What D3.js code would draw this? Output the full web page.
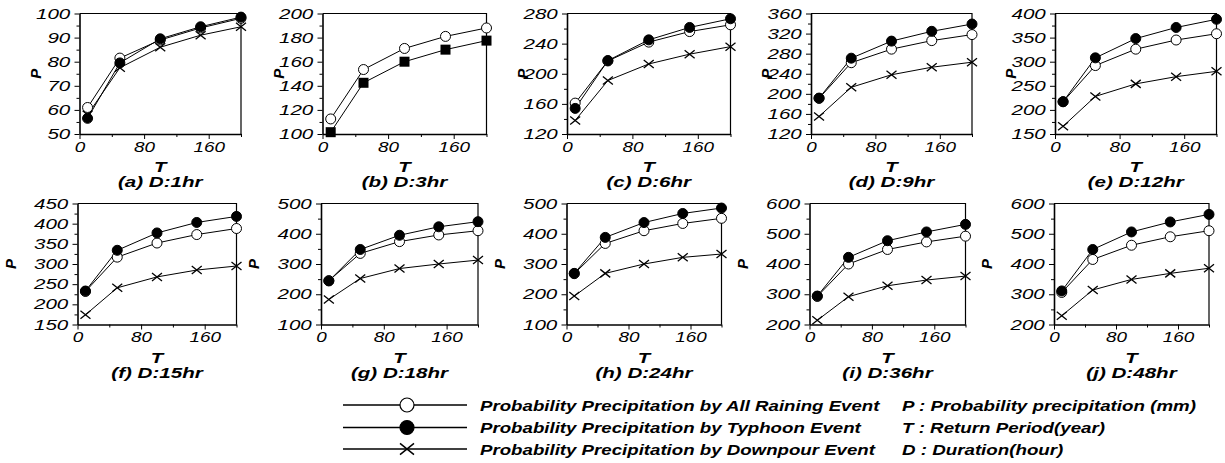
<!DOCTYPE html>
<html>
<head>
<meta charset="utf-8">
<script src="https://cdn.jsdelivr.net/npm/d3@7"></script>
<style>
  body { margin: 0; background: #fff; }
  svg { font-family: "Liberation Sans", Arial, sans-serif; }
</style>
</head>
<body>
<div id="chart"></div>
<script>
// return periods (year)
const T = [10, 50, 100, 150, 200];
const xTickLabels = [0, 80, 160];
const xMinorTicks = [40, 120, 200];

const panelTitles = ["(a) D:1hr", "(b) D:3hr", "(c) D:6hr", "(d) D:9hr", "(e) D:12hr",
                     "(f) D:15hr", "(g) D:18hr", "(h) D:24hr", "(i) D:36hr", "(j) D:48hr"];

// y axis ranges and label step for each panel
const yDomains = [[50, 100], [100, 200], [120, 280], [120, 360], [150, 400],
                  [150, 450], [100, 500], [100, 500], [200, 600], [200, 600]];
const ySteps = [10, 20, 40, 40, 50, 50, 100, 100, 100, 100];

// probability precipitation (mm)
const allRaining = [
    [61, 81.5, 89, 94, 98],
    [112.5, 153.5, 171, 181, 188],
    [161, 217, 242, 256, 265],
    [191, 262, 289, 306, 318],
    [217, 292, 326, 345, 358],
    [232, 317, 352, 373, 388],
    [245, 335, 374, 396, 410],
    [268, 368, 410, 434, 451],
    [293, 400, 448, 473, 492],
    [306, 415, 462, 490, 510]
];
const typhoon = [
    [56.5, 79.5, 89.5, 94.5, 98.5],
    [101.5, 142.5, 160, 170, 177.5],
    [154, 217.5, 245, 261.5, 273],
    [191.5, 271, 305, 324.5, 339],
    [217, 308, 348, 371, 388],
    [233, 334, 377, 403, 418],
    [244, 348, 395, 423, 440],
    [269, 388, 437, 467, 485],
    [294, 422, 477, 506, 531],
    [311, 448, 506, 539, 564]
];
const downpour = [
    [58, 77.5, 86, 91, 94.5],
    null,
    [138, 191, 213, 226, 236],
    [155, 213, 238, 253, 263],
    [166, 228, 254, 269, 280],
    [174, 241, 268, 285, 295],
    [183, 252, 285, 300, 313],
    [194, 269, 300, 322, 333],
    [214, 292, 328, 347, 360],
    [229, 314, 349, 369, 386]
];

const legendLabels = [
    "Probability Precipitation by All Raining Event",
    "Probability Precipitation by Typhoon Event",
    "Probability Precipitation by Downpour Event"
];
const noteLabels = [
    "P : Probability precipitation (mm)",
    "T : Return Period(year)",
    "D : Duration(hour)"
];

// panel frames (pixels)
const rowTop = [13.5, 203.5];
const rowBottom = [134, 324.5];
const panelLeft = [79.5, 322.5, 567, 811, 1055, 77.5, 321, 566.5, 809.5, 1054];
const panelRight = [241, 486.5, 730.5, 972, 1216.5, 236.5, 478, 721.5, 965.5, 1209];

const svg = d3.select("#chart")
    .append("svg")
    .attr("width", 1225)
    .attr("height", 463);

// the figure's lettering is wide, so text is stretched sideways
const SX_Y = 1.42;
const SX_X = 1.35;
const SX_TITLE = 1.42;

function crossPath(s) {
    return `M${-s},${-s * 0.8}L${s},${s * 0.8}M${-s},${s * 0.8}L${s},${-s * 0.8}`;
}

panelTitles.forEach(function(title, i) {
    const row = i < 5 ? 0 : 1;
    const top = rowTop[row], bottom = rowBottom[row];
    const left = panelLeft[i], right = panelRight[i];

    const x = d3.scaleLinear().domain([0, 200]).range([left, right]);
    const y = d3.scaleLinear().domain(yDomains[i]).range([bottom, top]);

    const majors = d3.range(yDomains[i][0], yDomains[i][1] + 0.1, ySteps[i]);
    const minors = d3.range(yDomains[i][0] + ySteps[i] / 2, yDomains[i][1], ySteps[i]);

    const g = svg.append("g");

    // frame top / right
    g.append("path")
        .attr("d", `M${left},${top}H${right}V${bottom}`)
        .attr("fill", "none")
        .attr("stroke", "#000")
        .attr("stroke-width", 1.2);

    // y axis
    const yAx = g.append("g")
        .attr("transform", `translate(${left},0)`)
        .call(d3.axisLeft(y).tickValues(majors).tickSize(5).tickSizeOuter(0).tickPadding(1.5));
    yAx.select(".domain").attr("stroke-width", 1.6);
    yAx.selectAll("text")
        .attr("font-size", 14.5)
        .attr("font-style", "italic")
        .attr("fill", "#000")
        .attr("transform", `scale(${SX_Y},1)`);
    g.append("g")
        .attr("transform", `translate(${left},0)`)
        .call(d3.axisLeft(y).tickValues(minors).tickSize(3).tickFormat(""))
        .select(".domain").remove();

    // x axis
    const xAx = g.append("g")
        .attr("transform", `translate(0,${bottom})`)
        .call(d3.axisBottom(x).tickValues(xTickLabels).tickSize(5).tickSizeOuter(0).tickPadding(3));
    xAx.select(".domain").attr("stroke-width", 1.6);
    xAx.selectAll("text")
        .attr("font-size", 14)
        .attr("font-style", "italic")
        .attr("fill", "#000")
        .attr("transform", `scale(${SX_X},1)`);
    g.append("g")
        .attr("transform", `translate(0,${bottom})`)
        .call(d3.axisBottom(x).tickValues(xMinorTicks).tickSize(3).tickFormat(""))
        .select(".domain").remove();

    // axis titles
    const midX = (left + right) / 2;
    g.append("text")
        .attr("transform", `translate(${midX},${bottom + 38}) scale(${SX_X},1)`)
        .attr("text-anchor", "middle")
        .attr("font-size", 15)
        .attr("font-weight", "bold")
        .attr("font-style", "italic")
        .text("T");
    g.append("text")
        .attr("transform", `translate(${midX},${bottom + 53}) scale(${SX_TITLE},1)`)
        .attr("text-anchor", "middle")
        .attr("font-size", 14.5)
        .attr("font-weight", "bold")
        .attr("font-style", "italic")
        .text(title);
    g.append("text")
        .attr("transform", `translate(${left - (row === 0 ? 39 : 62)},${(top + bottom) / 2}) rotate(-90)`)
        .attr("text-anchor", "middle")
        .attr("font-size", 15)
        .attr("font-weight", "bold")
        .attr("font-style", "italic")
        .text("P");

    const line = d3.line()
        .x((d, k) => x(T[k]))
        .y(d => y(d));

    const series = [
        { values: allRaining[i], kind: "open" },
        { values: typhoon[i], kind: i === 1 ? "square" : "filled" },
        { values: downpour[i], kind: "cross" }
    ].filter(s => s.values);

    // draw lines first, then markers on top
    series.forEach(function(s) {
        g.append("path")
            .attr("d", line(s.values))
            .attr("fill", "none")
            .attr("stroke", "#000")
            .attr("stroke-width", 1);
    });

    series.forEach(function(s) {
        const pts = g.selectAll(null)
            .data(s.values)
            .enter();
        if (s.kind === "open" || s.kind === "filled") {
            pts.append("circle")
                .attr("cx", (d, k) => x(T[k]))
                .attr("cy", d => y(d))
                .attr("r", 5)
                .attr("fill", s.kind === "open" ? "#fff" : "#000")
                .attr("stroke", "#000")
                .attr("stroke-width", 1);
        } else if (s.kind === "square") {
            pts.append("rect")
                .attr("x", (d, k) => x(T[k]) - 5)
                .attr("y", d => y(d) - 5)
                .attr("width", 10)
                .attr("height", 10)
                .attr("fill", "#000");
        } else {
            pts.append("path")
                .attr("transform", (d, k) => `translate(${x(T[k])},${y(d)})`)
                .attr("d", crossPath(5))
                .attr("fill", "none")
                .attr("stroke", "#000")
                .attr("stroke-width", 1.3);
        }
    });
});

// legend
const legendRows = [405, 427.5, 449];
const legend = svg.append("g");
legendLabels.forEach(function(label, k) {
    const yy = legendRows[k];
    legend.append("line")
        .attr("x1", 343).attr("x2", 467)
        .attr("y1", yy).attr("y2", yy)
        .attr("stroke", "#000")
        .attr("stroke-width", 1.3);
    if (k === 2) {
        legend.append("path")
            .attr("transform", `translate(407,${yy})`)
            .attr("d", crossPath(7))
            .attr("fill", "none")
            .attr("stroke", "#000")
            .attr("stroke-width", 1.5);
    } else {
        legend.append("circle")
            .attr("cx", 407).attr("cy", yy)
            .attr("r", 7)
            .attr("fill", k === 0 ? "#fff" : "#000")
            .attr("stroke", "#000")
            .attr("stroke-width", 1.2);
    }
    legend.append("text")
        .attr("transform", `translate(480,${yy + 5.5}) scale(1.245,1)`)
        .attr("font-size", 15)
        .attr("font-weight", "bold")
        .attr("font-style", "italic")
        .text(label);
    legend.append("text")
        .attr("transform", `translate(902,${yy + 5.5}) scale(1.25,1)`)
        .attr("font-size", 15)
        .attr("font-weight", "bold")
        .attr("font-style", "italic")
        .text(noteLabels[k]);
});
</script>
</body>
</html>
